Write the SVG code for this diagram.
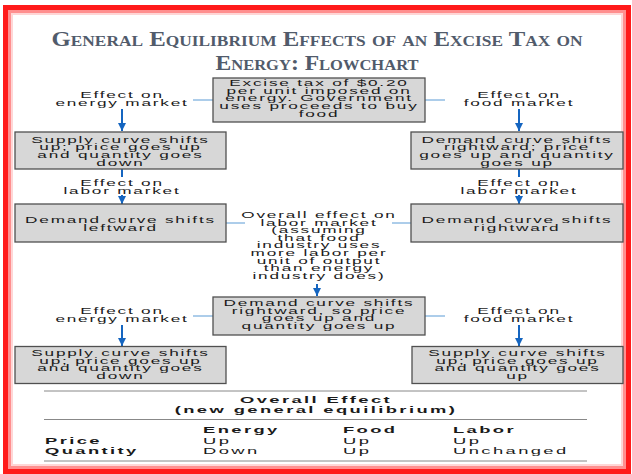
<svg xmlns="http://www.w3.org/2000/svg" width="632" height="474" viewBox="0 0 632 474">
<defs>
<marker id="ah" markerUnits="userSpaceOnUse" markerWidth="10" markerHeight="8" refX="8" refY="4" orient="auto">
<path d="M0,0 L8,4 L0,8 Z" fill="#1565c0"/>
</marker>
<style>
.box{fill:#d7d7d7;stroke:#505050;stroke-width:1.3}
.t{font-family:"Liberation Sans",Arial,sans-serif;font-size:8.6px;letter-spacing:0.9px;fill:#1a1a1a;text-anchor:middle}
.tb{font-family:"Liberation Sans",Arial,sans-serif;font-size:9.2px;letter-spacing:1.2px;fill:#1a1a1a}
.b{font-weight:bold}
.arr{stroke:#1565c0;stroke-width:2;fill:none}
.con{stroke:#5b9bd5;stroke-width:1;fill:none}
.rule{stroke:#888;stroke-width:1}
.title{font-family:"Liberation Serif","Times New Roman",serif;font-weight:bold;font-size:20px;font-variant:small-caps;fill:#515b6b;text-anchor:middle}
</style>
</defs>
<rect x="0" y="0" width="632" height="474" fill="#ffffff"/>
<rect x="5.5" y="7.5" width="623" height="464" fill="none" stroke="#ff1a1a" stroke-width="5"/>
<rect x="9.5" y="11.5" width="615" height="456" fill="none" stroke="#ff8f8f" stroke-width="3"/>
<rect x="12" y="14" width="610" height="451" fill="none" stroke="#ffd6d6" stroke-width="2"/>

<g id="title">
<text class="title" x="317" y="46" textLength="531" lengthAdjust="spacingAndGlyphs">General Equilibrium Effects of an Excise Tax on</text>
<text class="title" x="317" y="70" textLength="203" lengthAdjust="spacingAndGlyphs">Energy: Flowchart</text>
</g>

<g id="connectors">
<line class="con" x1="193" y1="100" x2="213" y2="100"/>
<line class="con" x1="425" y1="100" x2="445" y2="100"/>
<line class="arr" x1="122" y1="109" x2="122" y2="131" marker-end="url(#ah)"/>
<line class="arr" x1="519" y1="109" x2="519" y2="131" marker-end="url(#ah)"/>
<line class="arr" x1="122" y1="169" x2="122" y2="177"/>
<line class="arr" x1="519" y1="169" x2="519" y2="177"/>
<line class="arr" x1="122" y1="195" x2="122" y2="204" marker-end="url(#ah)"/>
<line class="arr" x1="519" y1="195" x2="519" y2="204" marker-end="url(#ah)"/>
<line class="con" x1="226" y1="223" x2="245" y2="223"/>
<line class="con" x1="392" y1="223" x2="411" y2="223"/>
<line class="arr" x1="317" y1="284" x2="317" y2="296" marker-end="url(#ah)"/>
<line class="con" x1="193" y1="316" x2="213" y2="316"/>
<line class="con" x1="425" y1="316" x2="445" y2="316"/>
<line class="arr" x1="122" y1="325" x2="122" y2="346" marker-end="url(#ah)"/>
<line class="arr" x1="519" y1="325" x2="519" y2="346" marker-end="url(#ah)"/>
</g>

<g id="tax">
<rect class="box" x="213" y="78" width="212" height="44"/>
<g transform="scale(2,1)">
<text class="t" x="159.5" y="86">Excise tax of $0.20</text>
<text class="t" x="159.5" y="93.7">per unit imposed on</text>
<text class="t" x="159.5" y="101.4">energy. Government</text>
<text class="t" x="159.5" y="109">uses proceeds to buy</text>
<text class="t" x="159.5" y="116.7">food</text>
</g>
</g>

<g id="lbl-energy1" transform="scale(2,1)">
<text class="t" x="61" y="98.5">Effect on</text>
<text class="t" x="61" y="106.2">energy market</text>
</g>
<g id="lbl-food1" transform="scale(2,1)">
<text class="t" x="259.5" y="98.5">Effect on</text>
<text class="t" x="259.5" y="106.2">food market</text>
</g>

<g id="energy-supply1">
<rect class="box" x="15" y="132" width="211" height="37"/>
<g transform="scale(2,1)">
<text class="t" x="60.25" y="142.7">Supply curve shifts</text>
<text class="t" x="60.25" y="150.4">up; price goes up</text>
<text class="t" x="60.25" y="158.1">and quantity goes</text>
<text class="t" x="60.25" y="165.8">down</text>
</g>
</g>

<g id="food-demand1">
<rect class="box" x="411" y="132" width="212" height="37"/>
<g transform="scale(2,1)">
<text class="t" x="258.5" y="142.7">Demand curve shifts</text>
<text class="t" x="258.5" y="150.4">rightward; price</text>
<text class="t" x="258.5" y="158.1">goes up and quantity</text>
<text class="t" x="258.5" y="165.8">goes up</text>
</g>
</g>

<g id="lbl-labor-l" transform="scale(2,1)">
<text class="t" x="61" y="186">Effect on</text>
<text class="t" x="61" y="193.7">labor market</text>
</g>
<g id="lbl-labor-r" transform="scale(2,1)">
<text class="t" x="259.5" y="186">Effect on</text>
<text class="t" x="259.5" y="193.7">labor market</text>
</g>

<g id="labor-left">
<rect class="box" x="15" y="204" width="211" height="38"/>
<g transform="scale(2,1)">
<text class="t" x="60.25" y="223">Demand curve shifts</text>
<text class="t" x="60.25" y="230.7">leftward</text>
</g>
</g>

<g id="labor-right">
<rect class="box" x="411" y="204" width="212" height="38"/>
<g transform="scale(2,1)">
<text class="t" x="258.5" y="223">Demand curve shifts</text>
<text class="t" x="258.5" y="230.7">rightward</text>
</g>
</g>

<g id="overall-labor" transform="scale(2,1)">
<text class="t" x="159.5" y="218">Overall effect on</text>
<text class="t" x="159.5" y="225.6">labor market</text>
<text class="t" x="159.5" y="233.2">(assuming</text>
<text class="t" x="159.5" y="240.8">that food</text>
<text class="t" x="159.5" y="248.4">industry uses</text>
<text class="t" x="159.5" y="256">more labor per</text>
<text class="t" x="159.5" y="263.6">unit of output</text>
<text class="t" x="159.5" y="271.2">than energy</text>
<text class="t" x="159.5" y="278.8">industry does)</text>
</g>

<g id="labor-demand">
<rect class="box" x="213" y="297" width="212" height="38"/>
<g transform="scale(2,1)">
<text class="t" x="159.5" y="306.5">Demand curve shifts</text>
<text class="t" x="159.5" y="314">rightward, so price</text>
<text class="t" x="159.5" y="321.5">goes up and</text>
<text class="t" x="159.5" y="329">quantity goes up</text>
</g>
</g>

<g id="lbl-energy2" transform="scale(2,1)">
<text class="t" x="61" y="314">Effect on</text>
<text class="t" x="61" y="321.7">energy market</text>
</g>
<g id="lbl-food2" transform="scale(2,1)">
<text class="t" x="259.5" y="314">Effect on</text>
<text class="t" x="259.5" y="321.7">food market</text>
</g>

<g id="energy-supply2">
<rect class="box" x="15" y="346.5" width="211" height="37"/>
<g transform="scale(2,1)">
<text class="t" x="60.25" y="356.5">Supply curve shifts</text>
<text class="t" x="60.25" y="364">up; price goes up</text>
<text class="t" x="60.25" y="371.5">and quantity goes</text>
<text class="t" x="60.25" y="379">down</text>
</g>
</g>

<g id="food-supply2">
<rect class="box" x="412" y="346.5" width="211" height="37"/>
<g transform="scale(2,1)">
<text class="t" x="258.75" y="356.5">Supply curve shifts</text>
<text class="t" x="258.75" y="364">up; price goes up</text>
<text class="t" x="258.75" y="371.5">and quantity goes</text>
<text class="t" x="258.75" y="379">up</text>
</g>
</g>

<g id="summary">
<line class="rule" x1="44" y1="391" x2="587" y2="391"/>
<line class="rule" x1="44" y1="419.5" x2="587" y2="419.5"/>
<line class="rule" x1="44" y1="461" x2="587" y2="461"/>
<g transform="scale(2,1)">
<text class="tb b" x="158" y="403.5" text-anchor="middle">Overall Effect</text>
<text class="tb b" x="158" y="413.5" text-anchor="middle">(new general equilibrium)</text>
<text class="tb b" x="101.5" y="433">Energy</text>
<text class="tb b" x="171.5" y="433">Food</text>
<text class="tb b" x="226.5" y="433">Labor</text>
<text class="tb b" x="22.5" y="444.5">Price</text>
<text class="tb b" x="22.5" y="454">Quantity</text>
<text class="tb" x="101.5" y="444.5">Up</text>
<text class="tb" x="171.5" y="444.5">Up</text>
<text class="tb" x="226.5" y="444.5">Up</text>
<text class="tb" x="101.5" y="454">Down</text>
<text class="tb" x="171.5" y="454">Up</text>
<text class="tb" x="226.5" y="454">Unchanged</text>
</g>
</g>
</svg>
